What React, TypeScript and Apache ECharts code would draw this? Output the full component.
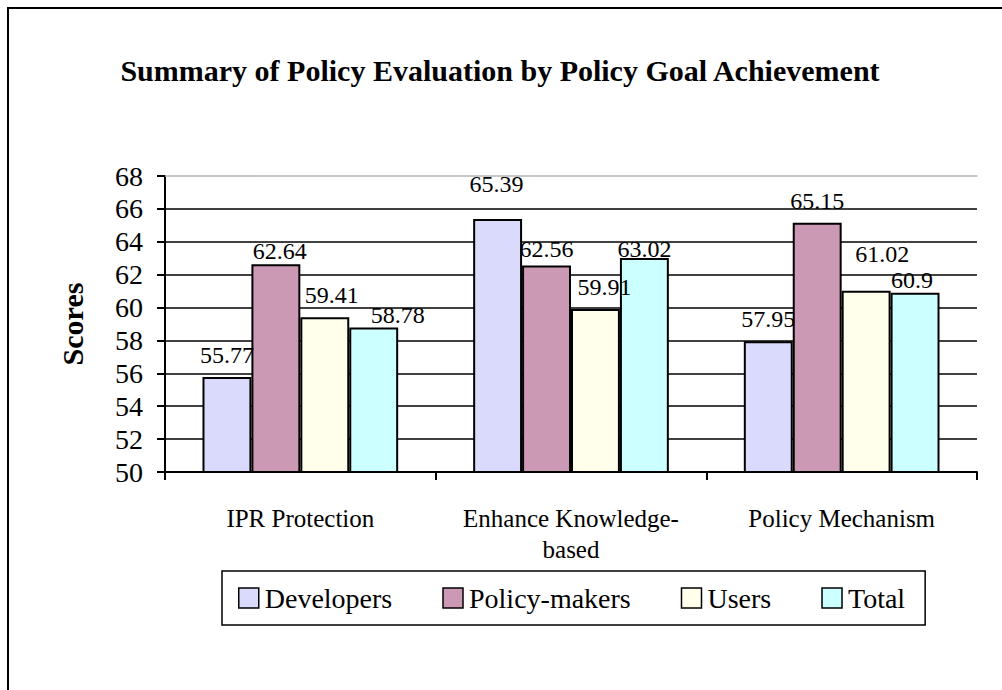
import React, { useEffect, useRef } from "react";
import * as echarts from "echarts";

const categories = ["IPR Protection", "Enhance Knowledge-based", "Policy Mechanism"];
const seriesNames = ["Developers", "Policy-makers", "Users", "Total"];
const developers = [55.77, 65.39, 57.95];
const policyMakers = [62.64, 62.56, 65.15];
const users = [59.41, 59.91, 61.02];
const total = [58.78, 63.02, 60.9];
const colors = ["#DADAFC", "#CC99B4", "#FFFFEC", "#CCFFFF"];

// manual label nudges (as placed in the original chart), [dx, dy] per point
const labelNudges = [
  [[0, 0], [-1, -13], [0, 0]],
  [[4, 9], [0, 6], [0, 0]],
  [[7, 0], [9, 0], [16, -15]],
  [[24, 9], [0, 13], [-3, 9]],
];

const FONT = "Liberation Serif, Times New Roman, serif";

export default function App() {
  const ref = useRef<HTMLDivElement>(null);
  useEffect(() => {
    if (!ref.current) return;
    const chart = echarts.init(ref.current, null, { renderer: "svg" });
    const values = [developers, policyMakers, users, total];
    chart.setOption({
      animation: false,
      backgroundColor: "#ffffff",
      textStyle: { fontFamily: FONT, color: "#000" },
      title: {
        text: "Summary of Policy Evaluation by Policy Goal Achievement",
        left: 495,
        textAlign: "center",
        top: 50,
        textStyle: { fontFamily: FONT, fontSize: 30, fontWeight: "bold", color: "#000" },
      },
      graphic: [
        {
          type: "rect",
          shape: { x: 8, y: 8, width: 1100, height: 900 },
          style: { fill: "none", stroke: "#000", lineWidth: 2 },
          silent: true,
          z: 100,
        },
      ],
      legend: {
        data: seriesNames,
        left: 222,
        top: 571,
        orient: "horizontal",
        icon: "rect",
        itemWidth: 20,
        itemHeight: 20,
        itemGap: 50,
        padding: [13, 20, 13, 16],
        borderColor: "#000",
        borderWidth: 1.5,
        textStyle: { fontFamily: FONT, fontSize: 28, color: "#000", padding: [0, 0, 0, 1] },
        itemStyle: { borderColor: "#000", borderWidth: 1.5 },
      },
      grid: { left: 165, right: 25, top: 176, bottom: 218, containLabel: false },
      xAxis: [
        {
          type: "category",
          data: categories,
          axisLine: { show: true, lineStyle: { color: "#000", width: 2 } },
          axisTick: { show: true, length: 8, lineStyle: { color: "#000", width: 2 } },
          axisLabel: {
            interval: 0,
            margin: 31,
            fontFamily: FONT,
            fontSize: 25,
            lineHeight: 31,
            color: "#000",
            formatter: (v: string) => v.replace("Knowledge-", "Knowledge-\n"),
          },
          splitLine: { show: false },
        },
        {
          type: "category",
          data: categories,
          position: "top",
          axisLine: { show: true, lineStyle: { color: "#b4b4b4", width: 1.5 } },
          axisTick: { show: false },
          axisLabel: { show: false },
        },
      ],
      yAxis: {
        type: "value",
        min: 50,
        max: 68,
        interval: 2,
        name: "Scores",
        nameLocation: "middle",
        nameRotate: 90,
        nameGap: 78,
        nameTextStyle: { fontFamily: FONT, fontSize: 30, fontWeight: "bold", color: "#000" },
        axisLine: { show: true, lineStyle: { color: "#000", width: 2 } },
        axisTick: { show: true, length: 8, lineStyle: { color: "#000", width: 2 } },
        axisLabel: { fontFamily: FONT, fontSize: 28, color: "#000", margin: 22 },
        splitLine: { show: true, showMaxLine: false, lineStyle: { color: "#000", width: 1.5 } },
      },
      series: seriesNames.map((name, i) => ({
        name,
        type: "bar",
        data: values[i].map((v, j) => ({ value: v, label: { offset: labelNudges[i][j] } })),
        barGap: "0%",
        barCategoryGap: "27.7%",
        itemStyle: { color: colors[i], borderColor: "#000", borderWidth: 2 },
        label: {
          show: true,
          position: "top",
          distance: 10,
          fontFamily: FONT,
          fontSize: 24,
          color: "#000",
        },
      })),
    });
    return () => chart.dispose();
  }, []);
  return (
    <div
      ref={ref}
      style={{ position: "fixed", left: 0, top: 0, width: 1002, height: 690, background: "#fff" }}
    />
  );
}
